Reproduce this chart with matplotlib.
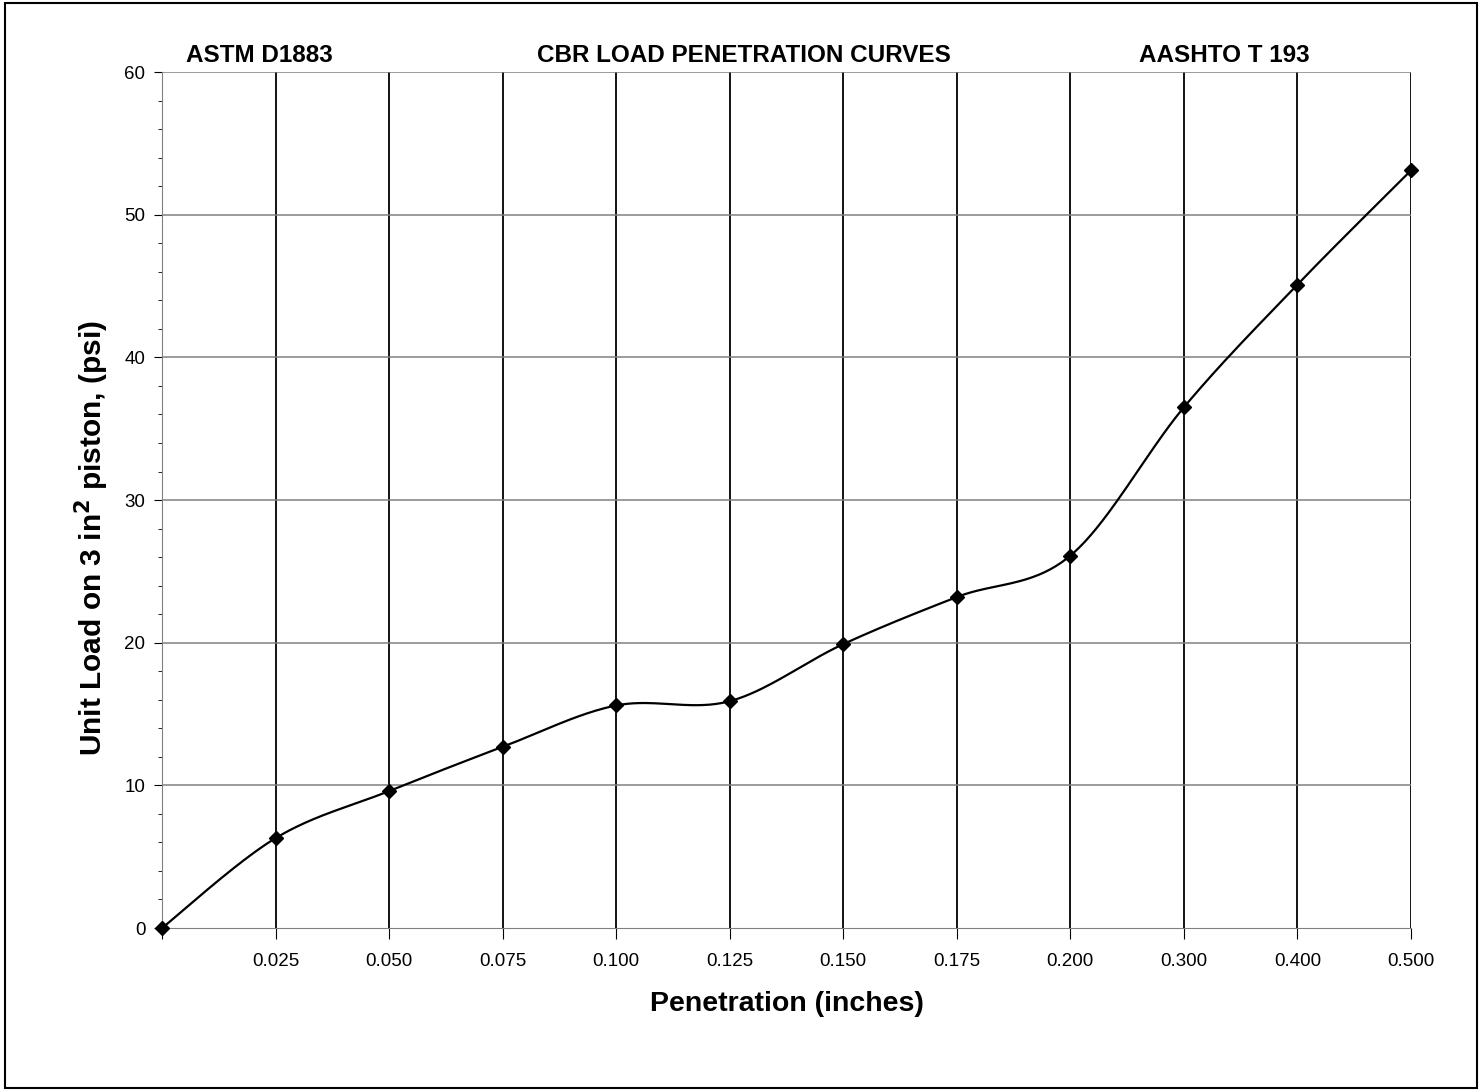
import numpy as np
import matplotlib
matplotlib.use("Agg")
from matplotlib import pyplot as plt
from matplotlib.patches import Rectangle

plt.rcParams['font.family'] = ['Liberation Sans', 'DejaVu Sans']

# data
penetration = ["", "0.025", "0.050", "0.075", "0.100", "0.125", "0.150",
               "0.175", "0.200", "0.300", "0.400", "0.500"]
unit_load = [0.0, 6.3, 9.6, 12.7, 15.6, 15.9, 19.9, 23.2, 26.1, 36.5, 45.1, 53.1]


def smooth(xs, ys, n=40):
    # Excel-like smoothed line (Catmull-Rom as cubic Bezier)
    xs = np.asarray(xs, float)
    ys = np.asarray(ys, float)
    px = np.concatenate([[xs[0]], xs, [xs[-1]]])
    py = np.concatenate([[ys[0]], ys, [ys[-1]]])
    t = np.linspace(0, 1, n)
    ox, oy = [], []
    for i in range(1, len(px) - 2):
        p0 = np.array([px[i], py[i]])
        p3 = np.array([px[i + 1], py[i + 1]])
        c1 = p0 + (np.array([px[i + 1], py[i + 1]]) - np.array([px[i - 1], py[i - 1]])) / 6
        c2 = p3 - (np.array([px[i + 2], py[i + 2]]) - np.array([px[i], py[i]])) / 6
        b = ((1 - t) ** 3)[:, None] * p0 + (3 * (1 - t) ** 2 * t)[:, None] * c1 \
            + (3 * (1 - t) * t ** 2)[:, None] * c2 + (t ** 3)[:, None] * p3
        ox.extend(b[:, 0])
        oy.extend(b[:, 1])
    return ox, oy


fig = plt.figure(figsize=(14.81, 10.90), dpi=100)
ax = fig.add_axes([0.1094, 0.1486, 0.8433, 0.7853])

x = np.arange(len(unit_load))
sx, sy = smooth(x, unit_load)
ax.plot(sx, sy, color='black', lw=1.6, zorder=3)
ax.plot(x, unit_load, linestyle='none', marker='D', markersize=7,
        color='black', zorder=4, clip_on=False)

ax.set_xlim(0, len(unit_load) - 1)
ax.set_ylim(0, 60)
ax.set_xticks(x)
ax.set_xticklabels(penetration, fontsize=13.5)
ax.set_yticks(np.arange(0, 61, 10))
ax.set_yticks(np.arange(0, 61, 2), minor=True)
ax.tick_params(axis='y', which='major', labelsize=13.5, length=6, pad=6)
ax.tick_params(axis='y', which='minor', length=3)
ax.tick_params(axis='x', which='major', length=8, pad=10)

for xi in x[1:]:
    ax.axvline(xi, color='black', lw=1.3, zorder=1)
for yi in range(10, 61, 10):
    ax.axhline(yi, color='#808080', lw=1.1, zorder=1)

for side in ['top', 'right']:
    ax.spines[side].set_visible(False)
ax.spines['left'].set_color('#808080')
ax.spines['bottom'].set_color('#808080')

ax.set_xlabel("Penetration (inches)", fontsize=20.5, fontweight='bold', labelpad=15)
ax.set_ylabel("Unit Load on 3 in$^{\\mathbf{2}}$ piston, (psi)", fontsize=21.5,
              fontweight='bold')
ax.yaxis.set_label_coords(-0.041, 0.456)

fig.text(259 / 1481, 1 - 55 / 1090, "ASTM D1883", fontsize=17.5,
         fontweight='bold', ha='center', va='center')
fig.text(744 / 1481, 1 - 56 / 1090, "CBR LOAD PENETRATION CURVES", fontsize=17.5,
         fontweight='bold', ha='center', va='center')
fig.text(1224 / 1481, 1 - 56 / 1090, "AASHTO T 193", fontsize=17.5,
         fontweight='bold', ha='center', va='center')

fig.patches.append(Rectangle((5 / 1481, 2 / 1090), 1472 / 1481, 1085 / 1090,
                             transform=fig.transFigure, fill=False,
                             edgecolor='black', lw=1.5))

fig.savefig('out.png', dpi=100)
